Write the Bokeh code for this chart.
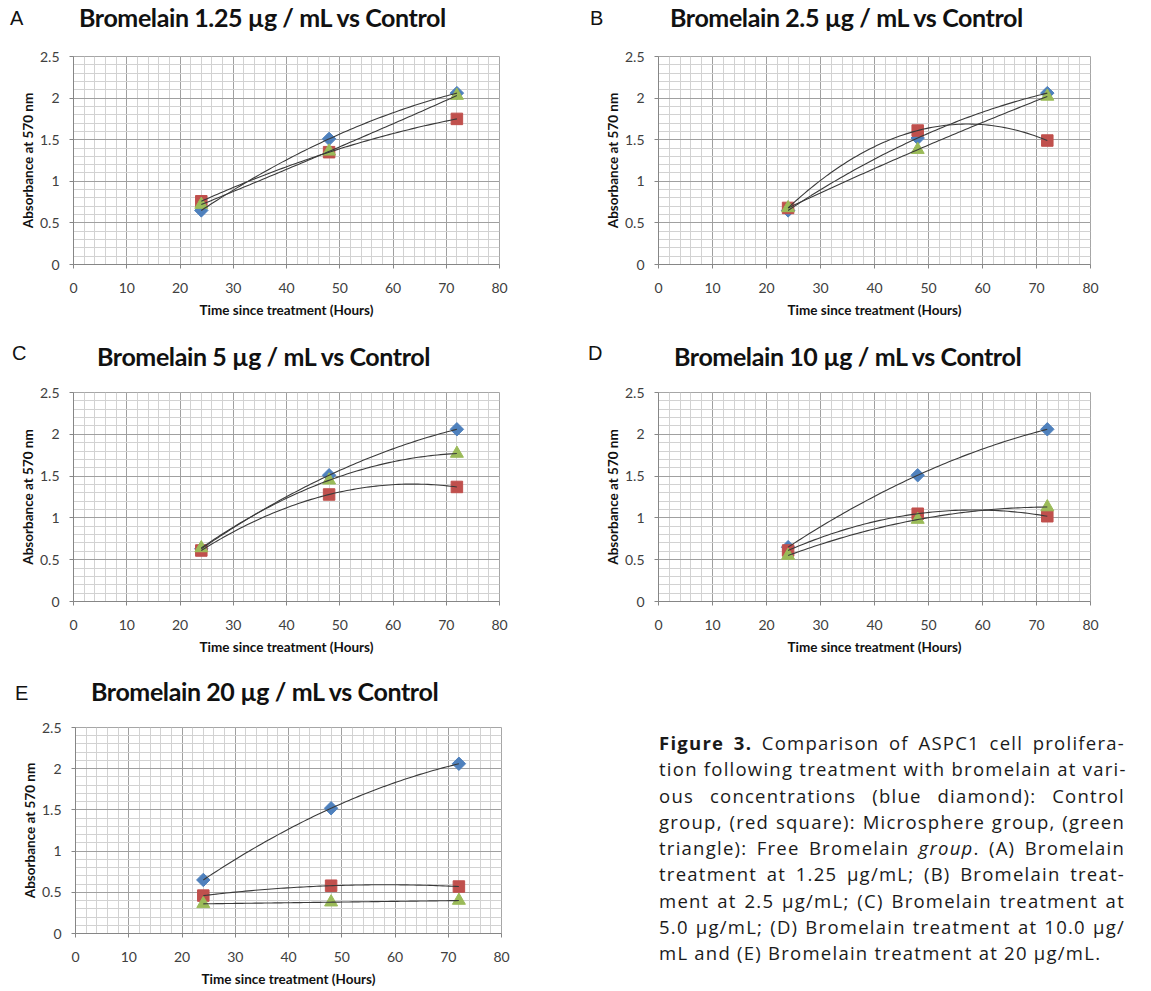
import numpy as np
from bokeh.plotting import figure
from bokeh.models import Div, Range1d, SingleIntervalTicker
from bokeh.layouts import column, row
from bokeh.embed import file_html
from bokeh.resources import INLINE

# ---------------- data ----------------
hours = [24, 48, 72]
panel_letters = ["A", "B", "C", "D", "E"]
panel_titles = [
    "Bromelain 1.25 µg / mL vs Control",
    "Bromelain 2.5 µg / mL vs Control",
    "Bromelain 5 µg / mL vs Control",
    "Bromelain 10 µg / mL vs Control",
    "Bromelain 20 µg / mL vs Control",
]
control = [
    [0.65, 1.51, 2.06],
    [0.65, 1.52, 2.06],
    [0.63, 1.51, 2.06],
    [0.65, 1.51, 2.06],
    [0.65, 1.52, 2.06],
]
microsphere = [
    [0.76, 1.35, 1.75],
    [0.68, 1.61, 1.49],
    [0.61, 1.28, 1.37],
    [0.61, 1.05, 1.02],
    [0.46, 0.58, 0.57],
]
free_bromelain = [
    [0.72, 1.36, 2.03],
    [0.68, 1.38, 2.02],
    [0.64, 1.45, 1.77],
    [0.55, 0.98, 1.13],
    [0.36, 0.38, 0.40],
]
ytick_values = [0, 0.5, 1, 1.5, 2, 2.5]
ytick_labels = ["0", "0.5", "1", "1.5", "2", "2.5"]
x_label = "Time since treatment (Hours)"
y_label = "Absorbance at 570 nm"

caption_lines = [
    "<b>Figure 3.</b> Comparison of ASPC1 cell prolifera-",
    "tion following treatment with bromelain at vari-",
    "ous concentrations (blue diamond): Control",
    "group, (red square): Microsphere group, (green",
    "triangle): Free Bromelain <i>group</i>. (A) Bromelain",
    "treatment at 1.25 µg/mL; (B) Bromelain treat-",
    "ment at 2.5 µg/mL; (C) Bromelain treatment at",
    "5.0 µg/mL; (D) Bromelain treatment at 10.0 µg/",
    "mL and (E) Bromelain treatment at 20 µg/mL.",
]

# ---------------- styles ----------------
BLUE, RED, GREEN = "#4F81BD", "#C0504D", "#9BBB59"
TREND = "#3a3a3a"
FONT = "Lato"

# layout per panel: (fig width, left border, frame width, fig height, frame height,
#                    letter left, letter top, title left, title top)
geo = [
    (580, 65, 426, 296, 208, 2, 0, 71, -3),
    (542, 70, 432, 296, 208, 2, 0, 82, -3),
    (580, 65, 426, 295, 209, 4, -1, 89, 0),
    (542, 70, 432, 295, 209, 0, -1, 86, 0),
    (580, 67, 426, 270, 209, 7, 4, 83, 0),
]


def header(i):
    w, *_r, ll, lt, tl, tt = geo[i]
    html = (
        f'<div style="position:relative;width:{w}px;height:40px;">'
        f'<span style="position:absolute;left:{ll}px;top:{lt}px;font-family:\'Liberation Sans\';'
        f'font-size:20px;line-height:1;color:#111;">{panel_letters[i]}</span>'
        f'<span style="position:absolute;left:{tl}px;top:{tt}px;font-family:{FONT};font-weight:bold;'
        f'font-size:25px;letter-spacing:-0.4px;line-height:1;white-space:nowrap;color:#111;">'
        f'{panel_titles[i]}</span>'
        '</div>'
    )
    return Div(text=html, width=w, height=40, margin=0)


def panel(i):
    w, bl, fw, h, fh, *_r = geo[i]
    p = figure(
        width=w, height=h, output_backend="svg", toolbar_location=None,
        x_range=Range1d(0, 80), y_range=Range1d(0, 2.5),
        min_border_left=bl, min_border_right=w - bl - fw,
        min_border_top=8, min_border_bottom=h - 8 - fh,
        background_fill_color="white", border_fill_color="white",
    )
    p.outline_line_color = "#a6a6a6"
    p.xaxis.ticker = SingleIntervalTicker(interval=10, num_minor_ticks=5)
    p.yaxis.ticker = SingleIntervalTicker(interval=0.5, num_minor_ticks=5)
    p.yaxis.major_label_overrides = {v: s for v, s in zip(ytick_values, ytick_labels)}
    for g in (p.xgrid, p.ygrid):
        g.grid_line_color = "#a0a0a0"
        g.grid_line_width = 1
        g.minor_grid_line_color = "#d2d2d2"
        g.minor_grid_line_width = 1
    p.xgrid.ticker = p.xaxis.ticker
    p.ygrid.ticker = p.yaxis.ticker
    for ax in (p.xaxis, p.yaxis):
        ax.axis_line_color = "#868686"
        ax.major_tick_line_color = "#868686"
        ax.major_tick_out = 4
        ax.major_tick_in = 0
        ax.minor_tick_out = 0
        ax.minor_tick_in = 0
        ax.major_label_text_font = FONT
        ax.major_label_text_font_size = "14px"
        ax.major_label_text_color = "#404040"
        ax.axis_label_text_font = FONT
        ax.axis_label_text_font_style = "bold"
        ax.axis_label_text_font_size = "13.5px"
        ax.axis_label_text_color = "#111111"
    p.xaxis.axis_label = x_label
    p.yaxis.axis_label = y_label
    p.xaxis.major_label_standoff = 14
    p.xaxis.axis_label_standoff = 6
    p.yaxis.major_label_standoff = 10
    p.yaxis.axis_label_standoff = 1

    p.scatter(hours, control[i], marker="square", angle=np.pi / 4, size=9.5,
              fill_color=BLUE, line_color=BLUE)
    p.scatter(hours, microsphere[i], marker="square", size=11.5,
              fill_color=RED, line_color=RED)
    p.scatter(hours, free_bromelain[i], marker="triangle", size=13,
              fill_color=GREEN, line_color=GREEN)

    # polynomial (order 2) trendlines, as in the spreadsheet chart
    xs = np.linspace(hours[0], hours[-1], 80)
    for series in (control[i], microsphere[i], free_bromelain[i]):
        coef = np.polyfit(hours, series, 2)
        p.line(xs, np.polyval(coef, xs), line_color=TREND, line_width=1.1)
    return p


cols = [column(header(i), panel(i), spacing=0) for i in range(5)]

cap_html = ['<div style="width:466px;font-family:\'Open Sans\';font-size:18.5px;'
            'letter-spacing:1.25px;line-height:26.3px;color:#1a1a1a;">']
for k, ln in enumerate(caption_lines):
    last = k == len(caption_lines) - 1
    align = "text-align:left;" if last else "text-align:justify;text-align-last:justify;"
    cap_html.append(f'<div style="{align}white-space:nowrap;">{ln}</div>')
cap_html.append('</div>')
caption = Div(text="".join(cap_html), width=547, height=300, margin=(51, 0, 0, 71))

layout = column(
    row(cols[0], cols[1], spacing=0),
    row(cols[2], cols[3], spacing=0),
    row(cols[4], caption, spacing=0),
    spacing=0,
    margin=(8, 0, 0, 8),
)

open("out.html", "w").write(file_html(layout, INLINE))
